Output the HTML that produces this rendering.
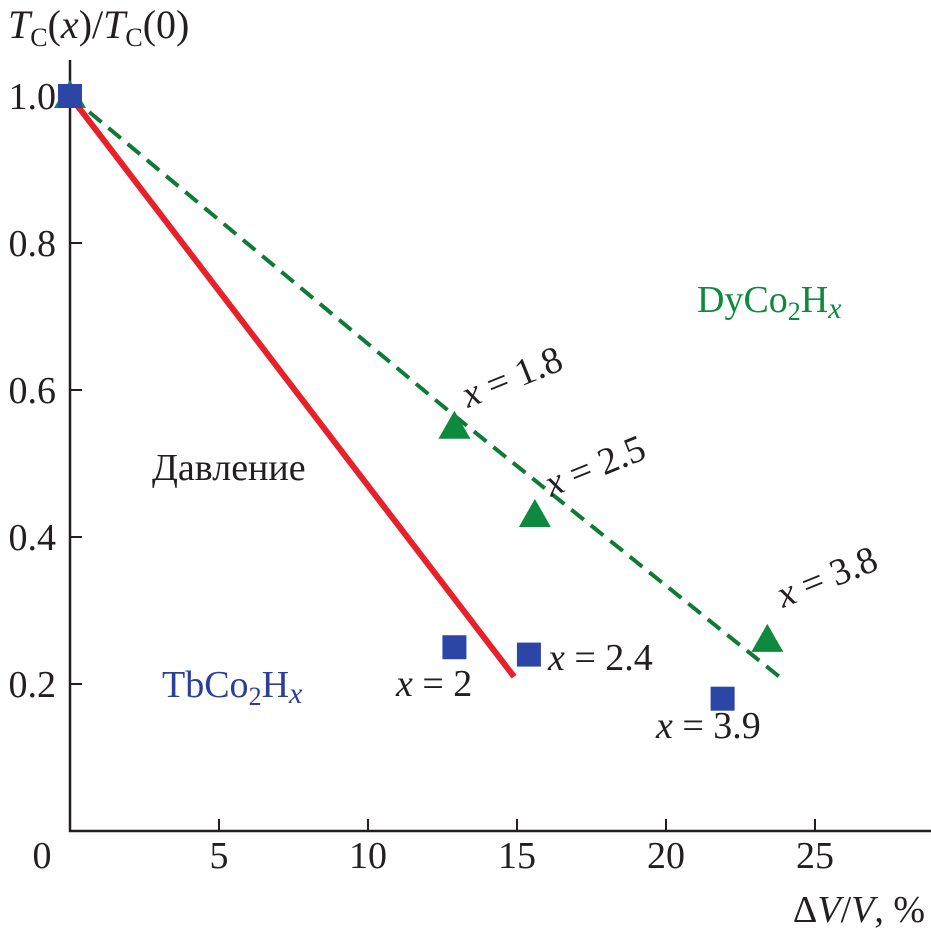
<!DOCTYPE html>
<html><head><meta charset="utf-8"><style>
html,body{margin:0;padding:0;background:#fff;}
svg{display:block;}
svg text{font-family:"Liberation Serif","Times New Roman","DejaVu Serif",serif;}
</style></head><body>
<svg id="chart" width="931" height="937" viewBox="0 0 931 937">
<g id="axes"></g>
<g id="marks"></g>
<g id="labels" font-size="38" fill="#231f20">
  <text x="8" y="38" font-size="40"><tspan font-style="italic">T</tspan><tspan font-size="26" dy="8">C</tspan><tspan dy="-8">(</tspan><tspan font-style="italic">x</tspan><tspan>)/</tspan><tspan font-style="italic">T</tspan><tspan font-size="26" dy="8">C</tspan><tspan dy="-8">(0)</tspan></text>
  <text x="925" y="922" text-anchor="end">Δ<tspan font-style="italic">V</tspan>/<tspan font-style="italic">V</tspan>, %</text>
  <text x="152" y="480">Давление</text>
  <text x="697" y="312" fill="#0e8a3e">DyCo<tspan font-size="26" dy="8">2</tspan><tspan dy="-8">H</tspan><tspan font-style="italic" font-size="30" dy="6">x</tspan></text>
  <text x="162" y="697" fill="#2b3f9a">TbCo<tspan font-size="26" dy="8">2</tspan><tspan dy="-8">H</tspan><tspan font-style="italic" font-size="30" dy="6">x</tspan></text>
  <text x="468" y="408" transform="rotate(-22 468 408)"><tspan font-style="italic">x</tspan> = 1.8</text>
  <text x="551" y="497" transform="rotate(-22 551 497)"><tspan font-style="italic">x</tspan> = 2.5</text>
  <text x="783" y="608" transform="rotate(-22 783 608)"><tspan font-style="italic">x</tspan> = 3.8</text>
  <text x="396" y="696"><tspan font-style="italic">x</tspan> = 2</text>
  <text x="548" y="670"><tspan font-style="italic">x</tspan> = 2.4</text>
  <text x="656" y="738"><tspan font-style="italic">x</tspan> = 3.9</text>
</g>
</svg>
<script>
const xTicks = [0, 5, 10, 15, 20, 25];
const yTicks = [0.2, 0.4, 0.6, 0.8, 1.0];
const yTickLabels = ["0.2", "0.4", "0.6", "0.8", "1.0"];
const tbX = [0, 12.9, 15.4, 21.9];
const tbY = [1.0, 0.25, 0.24, 0.18];
const dyX = [0, 12.9, 15.6, 23.4];
const dyY = [1.0, 0.55, 0.43, 0.26];
const pressureX = [0, 14.9];
const pressureY = [1.0, 0.21];
const dyFitX = [0, 12.9, 23.8];
const dyFitY = [1.0, 0.565, 0.21];

const NS = "http://www.w3.org/2000/svg";
function sx(v){ return 70 + v * 29.8; }
function sy(v){ return 831 - v * 735; }
function mk(tag, attrs, parent){
  const e = document.createElementNS(NS, tag);
  for (const k in attrs) e.setAttribute(k, attrs[k]);
  parent.appendChild(e);
  return e;
}
const axes = document.getElementById('axes');
const marks = document.getElementById('marks');
let e;
e = mk('line', {x1:70, y1:60, x2:70, y2:832, stroke:'#231f20', 'stroke-width':2.5}, axes);


e = mk('line', {x1:69, y1:831, x2:931, y2:831, stroke:'#231f20', 'stroke-width':2.5}, axes);


xTicks.forEach((t) => {
  if (t > 0) {
    const l = mk('line', {x1:sx(t), y1:831, x2:sx(t), y2:819, stroke:'#231f20', 'stroke-width':2}, axes);
    
    
  }
  const tx = mk('text', {x: t === 0 ? 42 : sx(t), y: 868, 'text-anchor':'middle', 'font-size':38, fill:'#231f20'}, axes);
  tx.textContent = String(t);
  
  
});
yTicks.forEach((t, i) => {
  const l = mk('line', {x1:70, y1:sy(t), x2:82, y2:sy(t), stroke:'#231f20', 'stroke-width':2}, axes);
  
  
  const tx = mk('text', {x:56, y:sy(t) + 13, 'text-anchor':'end', 'font-size':38, fill:'#231f20'}, axes);
  tx.textContent = yTickLabels[i];
  
  
});
let pts = dyFitX.map((x, i) => sx(x) + ',' + sy(dyFitY[i])).join(' ');
e = mk('polyline', {points:pts, fill:'none', stroke:'#0e7a35', 'stroke-width':4, 'stroke-dasharray':'16,9'}, marks);


pts = pressureX.map((x, i) => sx(x) + ',' + sy(pressureY[i])).join(' ');
e = mk('polyline', {points:pts, fill:'none', stroke:'#e8202a', 'stroke-width':6}, marks);


dyX.forEach((x, i) => {
  const cx = sx(x), cy = sy(dyY[i]);
  const p = mk('polygon', {points:(cx)+','+(cy-16)+' '+(cx-16)+','+(cy+12)+' '+(cx+16)+','+(cy+12), fill:'#0e8a3e'}, marks);
  
  
});
tbX.forEach((x, i) => {
  const cx = sx(x), cy = sy(tbY[i]);
  const r = mk('rect', {x:cx-12, y:cy-12, width:24, height:24, fill:'#2b46a6'}, marks);
  
  
});
</script>
</body></html>
